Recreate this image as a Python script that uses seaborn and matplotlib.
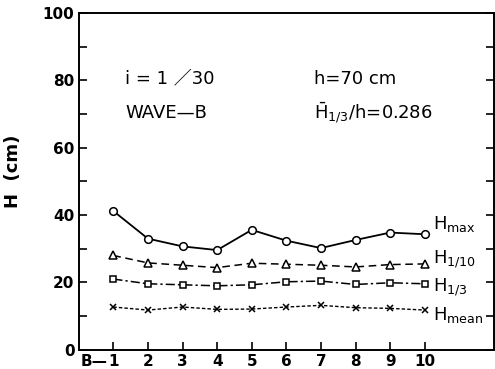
import matplotlib
matplotlib.use("Agg")
import matplotlib.pyplot as plt
import seaborn as sns
import pandas as pd
import numpy as np

sections = [1, 2, 3, 4, 5, 6, 7, 8, 9, 10]
h_max = [41.2, 33.0, 30.7, 29.6, 35.6, 32.4, 30.2, 32.6, 34.8, 34.3]
h_1_10 = [28.0, 25.8, 25.1, 24.4, 25.7, 25.4, 25.1, 24.6, 25.3, 25.5]
h_1_3 = [21.0, 19.6, 19.3, 19.0, 19.3, 20.2, 20.4, 19.4, 19.9, 19.6]
h_mean = [12.7, 11.8, 12.7, 12.0, 12.1, 12.7, 13.2, 12.5, 12.3, 11.8]
x_tick_labels = ["1", "2", "3", "4", "5", "6", "7", "8", "9", "10"]
x_label_prefix = "B—"
y_tick_labels = ["0", "20", "40", "60", "80", "100"]

sns.set_style("ticks")
plt.rcParams['font.family'] = ['DejaVu Sans']
plt.rcParams['text.color'] = 'black'
plt.rcParams['axes.labelcolor'] = 'black'
plt.rcParams['xtick.color'] = 'black'
plt.rcParams['ytick.color'] = 'black'
plt.rcParams['axes.edgecolor'] = 'black'

fig = plt.figure(figsize=(4.95, 3.69), dpi=100)
ax = fig.add_axes([0.159, 0.052, 0.839, 0.913])

series = [
    (h_max, "-", "o", 5.5, 1.3),
    (h_1_10, (0, (5, 3)), "^", 6, 1.1),
    (h_1_3, (0, (6, 2, 1.5, 2)), "s", 5, 1.1),
    (h_mean, (0, (2.5, 1.5)), "x", 5, 1.0),
]
for vals, ls, mk, ms, lw in series:
    df = pd.DataFrame({"x": sections, "y": vals})
    sns.lineplot(data=df, x="x", y="y", ax=ax, color="black", linestyle=ls,
                 marker=mk, markersize=ms, markerfacecolor="white",
                 markeredgecolor="black", markeredgewidth=1.1, linewidth=lw)

ax.set_xlim(0, 12)
ax.set_ylim(0, 100)
ax.set_xticks(sections)
ax.set_xticklabels(x_tick_labels, fontsize=11, fontweight="bold")
ax.annotate(x_label_prefix, xy=(sections[0], 0), xycoords=("data", "axes fraction"),
            xytext=(-4, -3), textcoords="offset points", ha="right", va="top",
            fontsize=11, fontweight="bold")
ax.set_yticks([0, 20, 40, 60, 80, 100])
ax.set_yticklabels(y_tick_labels, fontsize=11, fontweight="bold")
ax.set_yticks(np.arange(10, 100, 20), minor=True)
ax.tick_params(axis="y", which="both", direction="in", right=True, length=6, width=1.2, pad=3)
ax.tick_params(axis="x", direction="in", length=6, width=1.2, pad=3)
for s in ax.spines.values():
    s.set_linewidth(1.4)
ax.set_xlabel("")
ax.set_ylabel("H  (cm)", fontsize=13, fontweight="bold")
ax.yaxis.set_label_coords(-0.136, 0.53)

ax.text(1.35, 80.5, "i = 1 ／30", fontsize=13, va="center", ha="left",
        family=["DejaVu Sans", "Noto Sans CJK JP"])
ax.text(6.8, 80.5, "h=70 cm", fontsize=13, va="center", ha="left")
ax.text(1.35, 70.3, "WAVE—B", fontsize=13, va="center", ha="left")
ax.text(6.8, 70.3, r"$\bar{\mathregular{H}}_{\mathregular{1/3}}$/h=0.286", fontsize=13, va="center", ha="left")

ax.text(10.25, 37.3, r"H$_{\mathregular{max}}$", fontsize=13, va="center", ha="left")
ax.text(10.25, 27.0, r"H$_{\mathregular{1/10}}$", fontsize=13, va="center", ha="left")
ax.text(10.25, 18.6, r"H$_{\mathregular{1/3}}$", fontsize=13, va="center", ha="left")
ax.text(10.25, 10.2, r"H$_{\mathregular{mean}}$", fontsize=13, va="center", ha="left")

fig.savefig("out.png", dpi=100)
